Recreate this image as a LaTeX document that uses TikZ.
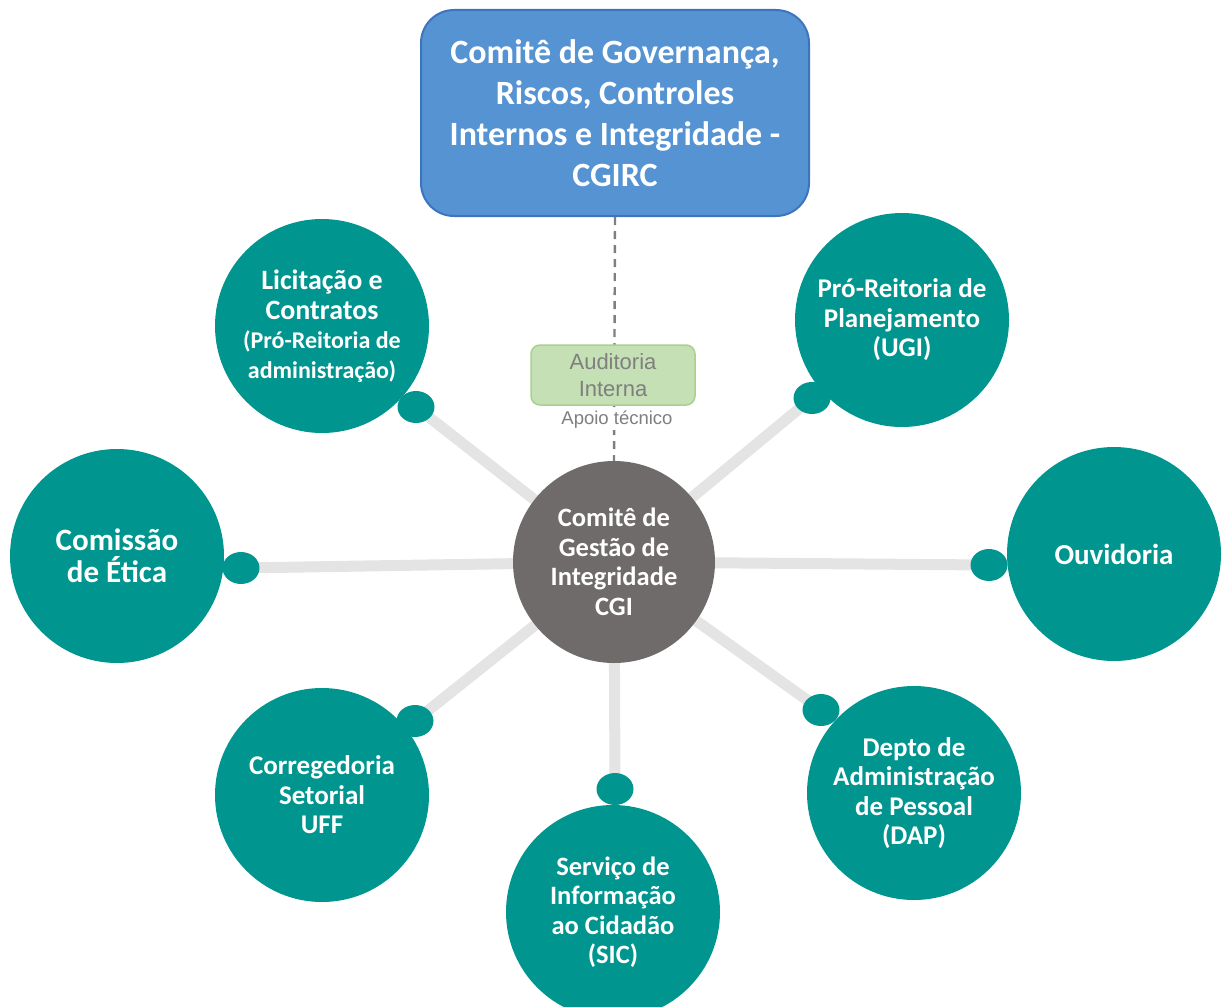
\documentclass[tikz,border=0pt]{standalone}
\usepackage{fontspec}
\setmainfont{Carlito}
\newfontfamily\arialf{Liberation Sans}
\usetikzlibrary{shapes.geometric,backgrounds}
\definecolor{tealc}{HTML}{00968F}
\definecolor{cgigray}{HTML}{6F6B6A}
\definecolor{topfill}{HTML}{5693D3}
\definecolor{topdraw}{HTML}{3D74BE}
\definecolor{audfill}{HTML}{C5E0B4}
\definecolor{auddraw}{HTML}{A9D18E}
\definecolor{linkgray}{HTML}{E4E4E4}
\definecolor{txtgray}{HTML}{7F7F7F}
\begin{document}
\begin{tikzpicture}[x=1pt,y=-1pt,
  outer/.style={circle, fill=tealc, minimum size=214pt, inner sep=0pt, text=white, align=center,
    font=\bfseries\fontsize{27}{29.5}\selectfont},
  knob/.style={ellipse, fill=tealc, minimum width=37pt, minimum height=32pt, inner sep=0pt},
  link/.style={draw=linkgray, line width=11pt},
  topbox/.style={rectangle, rounded corners=33pt, fill=topfill, draw=topdraw, line width=2pt,
    minimum width=388pt, minimum height=206pt, text=white, align=center,
    font=\bfseries\fontsize{34}{41}\selectfont},
  audbox/.style={rectangle, rounded corners=9pt, fill=audfill, draw=auddraw, line width=1.5pt,
    minimum width=164pt, minimum height=60pt, text=txtgray, align=center,
    font=\arialf\fontsize{22}{27}\selectfont, inner sep=0pt},
  dashlink/.style={draw=txtgray, line width=2.4pt, dash pattern=on 8pt off 6pt}]
\useasboundingbox (0,0) rectangle (1222,1006);

% top committee
\node[topbox] (cgirc) at (615,113) {Comitê de Governança,\\Riscos, Controles\\Internos e Integridade -\\CGIRC};

% center
\node[circle, fill=cgigray, minimum size=202pt, inner sep=0pt, text=white, align=center,
  font=\bfseries\fontsize{26.5}{29.5}\selectfont] (cgi) at (614,562)
  {Comitê de\\Gestão de\\Integridade\\CGI};

% dashed link and auditoria
\begin{scope}[on background layer]
\draw[dashlink] (cgirc.south) -- (cgi.north);
\end{scope}
\node[audbox] (aud) at (613,375) {Auditoria\\Interna};
\node[fill=white, inner sep=1pt, text=txtgray, font=\arialf\fontsize{18.5}{22}\selectfont] (apoio) at (617,420) {Apoio técnico};

% outer circles
\node[outer] (lic) at (322,326) {\fontsize{28}{30}\selectfont Licitação e\\\fontsize{28}{30}\selectfont Contratos\\\fontsize{24}{28}\selectfont(Pró-Reitoria de\\\fontsize{24}{28}\selectfont administração)};
\node[outer, font=\bfseries\fontsize{31}{32}\selectfont] (etica) at (117,556) {Comissão\\de Ética};
\node[outer] (corr) at (322,795) {Corregedoria\\Setorial\\UFF};
\node[outer, font=\bfseries\fontsize{26.5}{29.5}\selectfont] (sic) at (613,912) {Serviço de\\Informação\\ao Cidadão\\(SIC)};
\node[outer] (dap) at (914,793) {Depto de\\Administração\\de Pessoal\\(DAP)};
\node[outer, font=\bfseries\fontsize{29}{30}\selectfont] (ouv) at (1114,554) {Ouvidoria};
\node[outer] (proplan) at (902,320) {Pró-Reitoria de\\Planejamento\\(UGI)};

% knobs
\node[knob] (klic) at (416,407) {};
\node[knob] (ketica) at (241,568) {};
\node[knob] (kcorr) at (415,721) {};
\node[knob] (ksic) at (615,789) {};
\node[knob] (kdap) at (821,710) {};
\node[knob] (kouv) at (989,565) {};
\node[knob] (kpro) at (812,398) {};

% connectors
\begin{scope}[on background layer]
\foreach \k in {klic,ketica,kcorr,ksic,kdap,kouv,kpro}
  \draw[link] (cgi.center) -- (\k.center);
\end{scope}
\end{tikzpicture}
\end{document}
